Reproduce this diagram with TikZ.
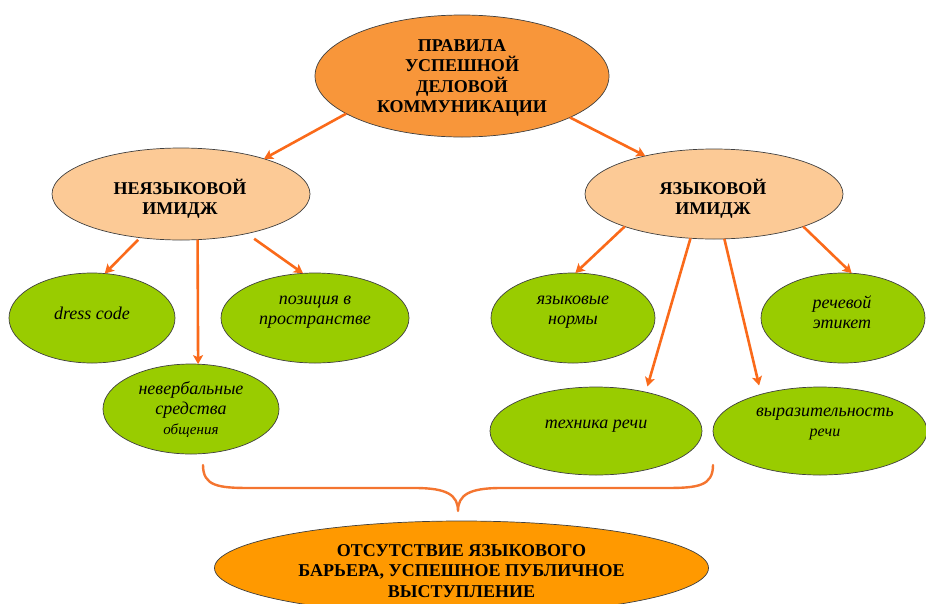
\documentclass[tikz,border=0pt]{standalone}
\usepackage{fontspec}
\setmainfont{Liberation Serif}
\usetikzlibrary{shapes.geometric,arrows.meta,calc}
\definecolor{topor}{HTML}{F8963A}
\definecolor{botor}{HTML}{FF9900}
\definecolor{peach}{HTML}{FCCA96}
\definecolor{leaf}{HTML}{99CC00}
\definecolor{arr}{HTML}{FA6A1A}
\definecolor{bracec}{HTML}{F47530}
\begin{document}
\begin{tikzpicture}[x=1pt,y=1pt,
  ell/.style={ellipse, draw=black!75, line width=0.7pt, inner sep=0pt, outer sep=0pt},
  gell/.style={ell, fill=leaf},
  head/.style={font=\bfseries\fontsize{18}{20.5}\selectfont, align=center, text=black, inner sep=0pt},
  itx/.style={font=\itshape\fontsize{18}{20}\selectfont, align=center, text=black, inner sep=0pt},
  conn/.style={draw=arr, line width=2.6pt, -{Stealth[length=9pt,width=10pt,inset=2pt]}},
]
\useasboundingbox (0,0) rectangle (926,-603);

% main ellipses
\node[ell, fill=topor, minimum width=294pt, minimum height=122pt] (top) at (462,-76) {};
\node[head] (toptxt) at (462,-78) {ПРАВИЛА\\УСПЕШНОЙ\\ДЕЛОВОЙ\\КОММУНИКАЦИИ};

\node[ell, fill=peach, minimum width=258pt, minimum height=92pt] (nl) at (181,-194) {};
\node[head] (nltxt) at (180,-199) {НЕЯЗЫКОВОЙ\\ИМИДЖ};

\node[ell, fill=peach, minimum width=258pt, minimum height=90pt] (nr) at (714,-194) {};
\node[head] (nrtxt) at (713,-199) {ЯЗЫКОВОЙ\\ИМИДЖ};

% green ellipses
\node[gell, minimum width=166pt, minimum height=90pt] (dc) at (92,-318) {};
\node[itx] (dctxt) at (92,-313) {dress code};

\node[gell, minimum width=188pt, minimum height=90pt] (pz) at (315,-318) {};
\node[itx] (pztxt) at (315,-312) {позиция в\\пространстве};

\node[gell, minimum width=176pt, minimum height=90pt] (nv) at (191,-409) {};
\node[itx] (nvtxt) at (191,-410) {невербальные\\средства\\{\fontsize{15}{18}\selectfont общения}};

\node[gell, minimum width=164pt, minimum height=90pt] (nm) at (573,-318) {};
\node[itx] (nmtxt) at (573,-312) {языковые\\нормы};

\node[gell, minimum width=164pt, minimum height=90pt] (et) at (843,-318) {};
\node[itx] (ettxt) at (842,-312) {речевой\\этикет};

\node[gell, minimum width=212pt, minimum height=88pt] (tr) at (596,-431) {};
\node[itx] (trtxt) at (596,-426) {техника речи};

\node[gell, minimum width=214pt, minimum height=88pt] (vr) at (820,-431) {};
\node[itx] (vrtxt) at (825,-424) {выразительность\\{\fontsize{16}{19}\selectfont речи}};

% bottom ellipse
\node[ell, fill=botor, minimum width=494pt, minimum height=94pt] (bot) at (461.5,-568) {};
\node[head] (bottxt) at (461.5,-571) {ОТСУТСТВИЕ ЯЗЫКОВОГО\\БАРЬЕРА, УСПЕШНОЕ ПУБЛИЧНОЕ\\ВЫСТУПЛЕНИЕ};

% connectors
\draw[conn] (top.198) -- (nl.23);
\draw[conn] (top.339) -- (nr.151);
\draw[conn, shorten <=3pt] (nl.227) -- (dc.74);
\draw[conn] (nl.290) -- (nv.81.5);
\draw[conn, shorten <=9pt] (nl.329.5) -- (pz.105.8);
\draw[conn] (nr.200) -- (nm.87.5);
\draw[conn, shorten >=6pt] (nr.242.5) -- (tr.38.5);
\draw[conn, shorten >=9pt] (nr.283.4) -- (vr.148.8);
\draw[conn] (nr.340) -- (et.79);

% brace
\coordinate (bl) at (203,-465);
\coordinate (br) at (713,-465);
\coordinate (btip) at (458,-511);
\draw[bracec, line width=2.4pt, line cap=round, line join=round]
  (bl) .. controls (203,-486) and (218,-488) .. (250,-488)
  -- (415,-488) .. controls (447,-488) and (458,-495) .. (btip)
  .. controls (458,-495) and (469,-488) .. (501,-488)
  -- (666,-488) .. controls (698,-488) and (713,-486) .. (br);
\end{tikzpicture}
\end{document}
